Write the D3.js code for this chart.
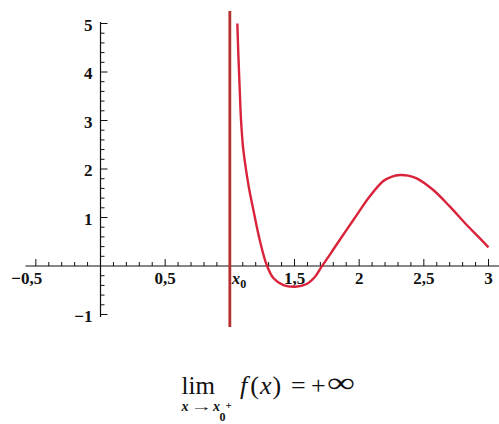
<!DOCTYPE html>
<html lang="en">
<head>
  <meta charset="UTF-8">
  <title>Limite a destra: +infinito</title>
  <script src="https://d3js.org/d3.v7.min.js"></script>
  <style>
    body { margin: 0; background: white; }
    svg { display: block; }
    text { font-family: "Liberation Serif", "Times New Roman", serif; fill: #111; }
  </style>
</head>
<body>
  <svg width="499" height="424"></svg>
  <script>
    // curve values
    const curveX = [1.058, 1.066, 1.076, 1.087, 1.103, 1.121, 1.148, 1.182, 1.233, 1.285, 1.336, 1.414, 1.504,
                    1.594, 1.659, 1.71, 1.775, 1.826, 1.955, 2.084, 2.187, 2.254, 2.316, 2.378, 2.445, 2.573,
                    2.702, 2.832, 2.934, 3.0];
    const curveY = [5.0, 4.35, 3.67, 2.99, 2.43, 2.06, 1.61, 1.155, 0.515, 0.02, -0.247, -0.392, -0.427,
                    -0.371, -0.221, -0.014, 0.241, 0.443, 0.948, 1.443, 1.753, 1.845, 1.876, 1.864, 1.808, 1.567,
                    1.223, 0.845, 0.571, 0.385];
    const x0 = 1;                 // vertical asymptote
    const asymY = [-1.26, 5.26];

    const xTicks = [-0.5, 0.5, 1, 1.5, 2, 2.5, 3];
    const xLabels = ["\u22120,5", "0,5", "x0", "1,5", "2", "2,5", "3"];
    const yTicks = [-1, 1, 2, 3, 4, 5];
    const yLabels = ["\u22121", "1", "2", "3", "4", "5"];

    const svg = d3.select("svg");

    const x = d3.scaleLinear().domain([0, 3]).range([100.5, 488.5]);
    const y = d3.scaleLinear().domain([0, 5]).range([266, 23.5]);

    // axes lines
    svg.append("line")
      .attr("x1", x(-0.58)).attr("x2", 499)
      .attr("y1", y(0)).attr("y2", y(0))
      .attr("stroke", "#111").attr("stroke-width", 1.2);
    svg.append("line")
      .attr("x1", x(0)).attr("x2", x(0))
      .attr("y1", y(5.03)).attr("y2", y(-1.05))
      .attr("stroke", "#111").attr("stroke-width", 1.2);

    // x ticks (point up)
    const xMinor = d3.range(-5, 31).map(d => d / 10).filter(d => d !== 0);
    svg.append("g").selectAll("line")
      .data(xMinor)
      .join("line")
      .attr("x1", d => x(d)).attr("x2", d => x(d))
      .attr("y1", y(0))
      .attr("y2", d => y(0) - (xTicks.some(t => Math.abs(t - d) < 1e-6) ? 7 : 4))
      .attr("stroke", "#111").attr("stroke-width", 1);

    const xl = svg.append("g").selectAll("text")
      .data(xTicks)
      .join("text")
      .attr("x", d => x(d))
      .attr("y", y(0) + 18)
      .attr("font-size", 17)
      .attr("font-weight", "bold")
      .attr("fill", "#222")
      .attr("text-anchor", d => d === x0 ? "start" : "middle")
      .attr("dx", (d, i) => d === x0 ? 2 : (d < 0 ? -9 : 0));
    xl.each(function(d, i) {
      const t = d3.select(this);
      if (xLabels[i] === "x0") {
        t.append("tspan").attr("font-style", "italic").text("x");
        t.append("tspan").attr("font-size", 12).attr("dy", 4).text("0");
      } else {
        t.text(xLabels[i]);
      }
    });

    // y ticks (point right)
    const yMinor = d3.range(-5, 26).map(d => d / 5).filter(d => d !== 0);
    svg.append("g").selectAll("line")
      .data(yMinor)
      .join("line")
      .attr("x1", x(0))
      .attr("x2", d => x(0) + (yTicks.some(t => Math.abs(t - d) < 1e-6) ? 7 : 4))
      .attr("y1", d => y(d)).attr("y2", d => y(d))
      .attr("stroke", "#111").attr("stroke-width", 1);

    svg.append("g").selectAll("text")
      .data(yTicks)
      .join("text")
      .attr("x", x(0) - 8)
      .attr("y", d => y(d) + 7)
      .attr("font-size", 17)
      .attr("font-weight", "bold")
      .attr("fill", "#222")
      .attr("text-anchor", "end")
      .text((d, i) => yLabels[i]);

    // asymptote
    svg.append("line")
      .attr("x1", x(x0)).attr("x2", x(x0))
      .attr("y1", y(asymY[1])).attr("y2", y(asymY[0]))
      .attr("stroke", "#b3302f").attr("stroke-width", 2.8);

    // function curve
    const pts = curveX.map((d, i) => [d, curveY[i]]);
    const line = d3.line()
      .x(d => x(d[0]))
      .y(d => y(d[1]))
      .curve(d3.curveCatmullRom.alpha(0.5));
    svg.append("path")
      .datum(pts)
      .attr("d", line)
      .attr("fill", "none")
      .attr("stroke", "#d9233a")
      .attr("stroke-width", 2.4);

    // formula
    const f = svg.append("g");
    f.append("text").attr("x", 181.5).attr("y", 394).attr("font-size", 25).text("lim");
    f.append("text").attr("x", 181.5).attr("y", 411).attr("font-size", 14).attr("font-weight", "bold")
      .attr("font-style", "italic").text("x");
    f.append("text").attr("x", 190).attr("y", 411).attr("font-size", 13).attr("font-weight", "bold")
      .attr("textLength", 22).attr("lengthAdjust", "spacingAndGlyphs").text("\u2192");
    f.append("text").attr("x", 213).attr("y", 411).attr("font-size", 14).attr("font-weight", "bold")
      .attr("font-style", "italic").text("x");
    f.append("text").attr("x", 225.5).attr("y", 409).attr("font-size", 11).attr("font-weight", "bold").text("+");
    f.append("text").attr("x", 219.5).attr("y", 421).attr("font-size", 12).attr("font-weight", "bold").text("0");

    const rhs = f.append("text").attr("x", 240).attr("y", 394).attr("font-size", 26);
    rhs.append("tspan").attr("font-style", "italic").text("f");
    rhs.append("tspan").attr("dx", 3).text("(");
    rhs.append("tspan").attr("dx", 1).attr("font-style", "italic").text("x");
    rhs.append("tspan").attr("dx", 1).text(")");
    f.append("text").attr("x", 291).attr("y", 394).attr("font-size", 26).text("=");
    f.append("text").attr("x", 311).attr("y", 394).attr("font-size", 26).text("+");
    f.append("text").attr("x", 327).attr("y", 392).attr("font-size", 28).attr("textLength", 28)
      .attr("lengthAdjust", "spacingAndGlyphs").text("\u221e");
  </script>
</body>
</html>
